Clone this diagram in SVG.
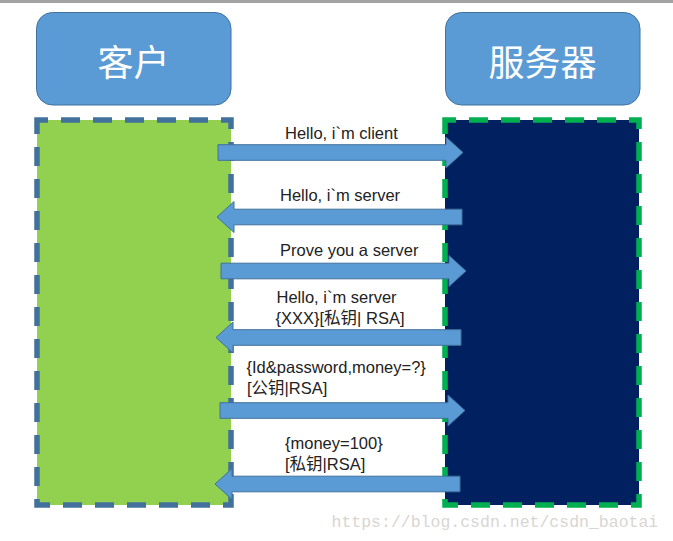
<svg xmlns="http://www.w3.org/2000/svg" width="673" height="541" viewBox="0 0 673 541">
<style>
.hdr{fill:#5b9bd5;stroke:#41719c;stroke-width:1}
.hdrt{font-family:"Noto Sans CJK SC","Liberation Sans",sans-serif;font-size:36px;fill:#ffffff;text-anchor:middle;dominant-baseline:central}
.arrow{fill:#5b9bd5;stroke:#41719c;stroke-width:1}
.lbl{font-family:"Liberation Sans","Noto Sans CJK SC",sans-serif;font-size:16.5px;fill:#222222}
.wm{font-family:"Liberation Mono","DejaVu Sans Mono",monospace;font-size:16.5px;fill:#d9d6d2}
</style>
<rect x="0" y="0" width="673" height="3" fill="#a3a3a3"/>
<g id="client-header">
<rect class="hdr" x="36.5" y="12.5" width="194.5" height="92.5" rx="16"/>
<text class="hdrt" x="133.5" y="60">客户</text>
</g>
<g id="server-header">
<rect class="hdr" x="445.5" y="12.5" width="194.5" height="92.5" rx="16"/>
<text class="hdrt" x="542.5" y="60">服务器</text>
</g>
<g id="client-lane">
<rect x="37" y="120" width="194" height="385" fill="#92d050" stroke="#41719c" stroke-width="5.5" stroke-dasharray="19 13" stroke-dashoffset="8"/>
</g>
<g id="server-lane">
<rect x="445" y="120" width="194" height="385" fill="#002060" stroke="#00b050" stroke-width="5.5" stroke-dasharray="19 13" stroke-dashoffset="8"/>
</g>
<g id="connectors">
<polygon class="arrow" points="218,144.7 446,144.7 446,137 463,152.5 446,168 446,160.3 218,160.3"/>
<polygon class="arrow" points="462,209.2 234,209.2 234,201.5 217,217 234,232.5 234,224.8 462,224.8"/>
<polygon class="arrow" points="221,263.2 449,263.2 449,255.5 466,271 449,286.5 449,278.8 221,278.8"/>
<polygon class="arrow" points="461,329.7 233,329.7 233,322 216,337.5 233,353 233,345.3 461,345.3"/>
<polygon class="arrow" points="220,402.7 448,402.7 448,395 465,410.5 448,426 448,418.3 220,418.3"/>
<polygon class="arrow" points="460,476.2 232,476.2 232,468.5 215,484 232,499.5 232,491.8 460,491.8"/>
</g>
<g id="labels">
<text class="lbl" x="285" y="139">Hello, i`m client</text>
<text class="lbl" x="280" y="201">Hello, i`m server</text>
<text class="lbl" x="280" y="256">Prove you a server</text>
<text class="lbl" x="276.5" y="303">Hello, i`m server</text>
<text class="lbl" x="275.5" y="324">{XXX}[私钥| RSA]</text>
<text class="lbl" x="246.5" y="373">{Id&amp;password,money=?}</text>
<text class="lbl" x="247" y="394">[公钥|RSA]</text>
<text class="lbl" x="285" y="449">{money=100}</text>
<text class="lbl" x="285" y="470">[私钥|RSA]</text>
</g>
<text class="wm" x="331.5" y="526.5">https://blog.csdn.net/csdn_baotai</text>
</svg>
